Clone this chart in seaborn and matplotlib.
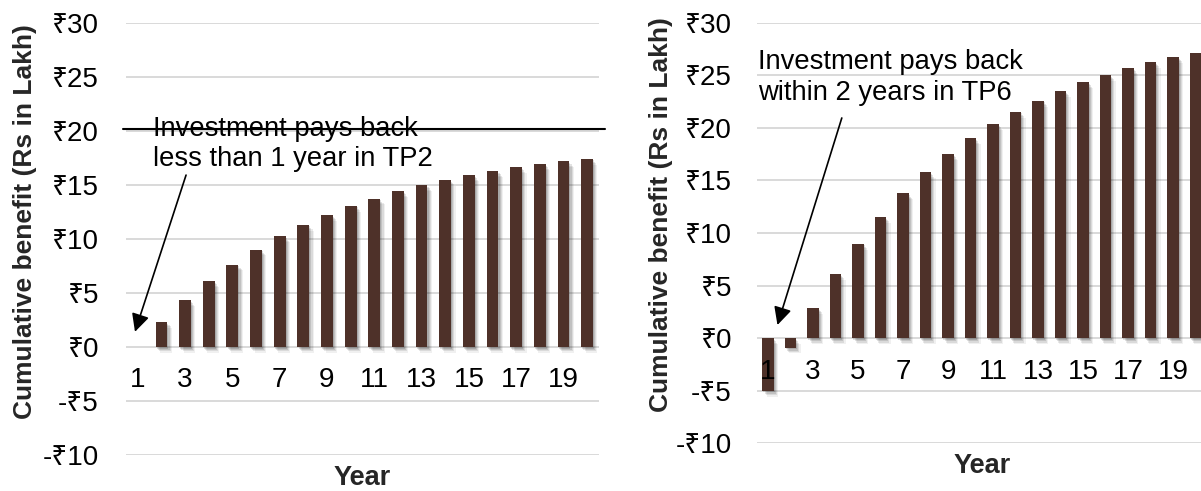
import matplotlib
matplotlib.use("Agg")
import matplotlib.pyplot as plt
import matplotlib.patheffects as pe
from matplotlib.ticker import FuncFormatter
import seaborn as sns

# Cumulative benefit (Rs in Lakh) per year for the two test points
years = list(range(1, 21))
tp2_benefit = [0.0, 2.31, 4.32, 6.08, 7.62, 9.01, 10.22, 11.30, 12.22, 13.06,
               13.73, 14.41, 14.97, 15.46, 15.90, 16.27, 16.64, 16.91, 17.19, 17.41]
tp6_benefit = [-5.0, -0.9, 2.87, 6.11, 8.98, 11.53, 13.76, 15.76, 17.48, 19.01,
               20.35, 21.53, 22.58, 23.50, 24.33, 25.03, 25.67, 26.27, 26.75, 27.15]
y_ticks = [-10, -5, 0, 5, 10, 15, 20, 25, 30]
x_tick_years = [1, 3, 5, 7, 9, 11, 13, 15, 17, 19]
note_tp2 = "Investment pays back\nless than 1 year in TP2"
note_tp6 = "Investment pays back\nwithin 2 years in TP6"

BAR = "#4E3129"
GRID = "#D9D9D9"
FONT = ["Liberation Sans", "Noto Sans", "DejaVu Sans"]

sns.set_theme(style="white")
plt.rcParams["font.family"] = FONT
plt.rcParams["text.color"] = "black"

fig = plt.figure(figsize=(12.01, 4.91), dpi=100)
ax_left = fig.add_axes([0.1049, 0.0733, 0.3938, 0.8805])
ax_right = fig.add_axes([0.6301, 0.0971, 0.3747, 0.8567])

# soft drop shadow under every bar
shadow = [
    pe.SimplePatchShadow(offset=(0.8, -1.2), shadow_rgbFace="black", alpha=0.13),
    pe.SimplePatchShadow(offset=(1.6, -2.2), shadow_rgbFace="black", alpha=0.11),
    pe.SimplePatchShadow(offset=(2.4, -3.2), shadow_rgbFace="black", alpha=0.09),
    pe.SimplePatchShadow(offset=(3.2, -4.2), shadow_rgbFace="black", alpha=0.06),
    pe.Normal(),
]


def rupee(v, _pos):
    return f"-₹{abs(v):g}" if v < 0 else f"₹{v:g}"


def draw_panel(ax, values, ylab_xy, xlab_y, ypad, xpad):
    sns.barplot(x=years, y=values, color=BAR, saturation=1, width=0.5, ax=ax)
    for bar in ax.patches:
        bar.set_path_effects(shadow)
        bar.set_linewidth(0)
    ax.set_xlim(-0.5, len(years) - 0.5)
    ax.set_ylim(-10, 30)
    ax.set_yticks(y_ticks)
    ax.yaxis.set_major_formatter(FuncFormatter(rupee))
    ax.set_xticks([years.index(y) for y in x_tick_years])
    ax.set_xticklabels([str(y) for y in x_tick_years])
    for side in ("top", "right", "left"):
        ax.spines[side].set_visible(False)
    ax.spines["bottom"].set_position(("data", 0))
    ax.spines["bottom"].set_visible(False)
    ax.grid(axis="y", color=GRID, lw=1.4)
    ax.set_axisbelow(True)
    ax.xaxis.set_zorder(3)
    ax.tick_params(axis="y", length=0, pad=ypad, labelsize=20, colors="black")
    ax.tick_params(axis="x", length=0, pad=xpad, labelsize=20, colors="black")
    ax.set_ylabel("Cumulative benefit (Rs in Lakh)", fontsize=19, fontweight="bold")
    ax.yaxis.set_label_coords(*ylab_xy)
    ax.set_xlabel("Year", fontsize=19.5, fontweight="bold")
    ax.xaxis.set_label_coords(0.5, xlab_y)


draw_panel(ax_left, tp2_benefit, (-0.189, 0.541), -0.022, 19.5, 14.5)
draw_panel(ax_right, tp6_benefit, (-0.186, 0.544), -0.022, 18, 15)

arrow = dict(arrowstyle="-|>,head_length=0.6,head_width=0.3", color="black",
             lw=1.2, mutation_scale=18, shrinkA=0, shrinkB=0)

# TP2 callout
ax_left.text(0.64, 18.75, note_tp2, ha="left", va="center", fontsize=19.7,
             linespacing=1.22)
ax_left.annotate("", xy=(-0.12, 1.4), xytext=(2.04, 15.9), arrowprops=arrow)
ax_left.plot([-0.006, 1.013], [20.2, 20.2], color="black", lw=1.5,
             transform=ax_left.get_yaxis_transform(), clip_on=False, zorder=4)

# TP6 callout
ax_right.text(-0.43, 24.8, note_tp6, ha="left", va="center", fontsize=19.7,
              linespacing=1.22)
ax_right.annotate("", xy=(0.42, 1.25), xytext=(3.28, 20.94), arrowprops=arrow)

fig.savefig("out.png", dpi=100)
